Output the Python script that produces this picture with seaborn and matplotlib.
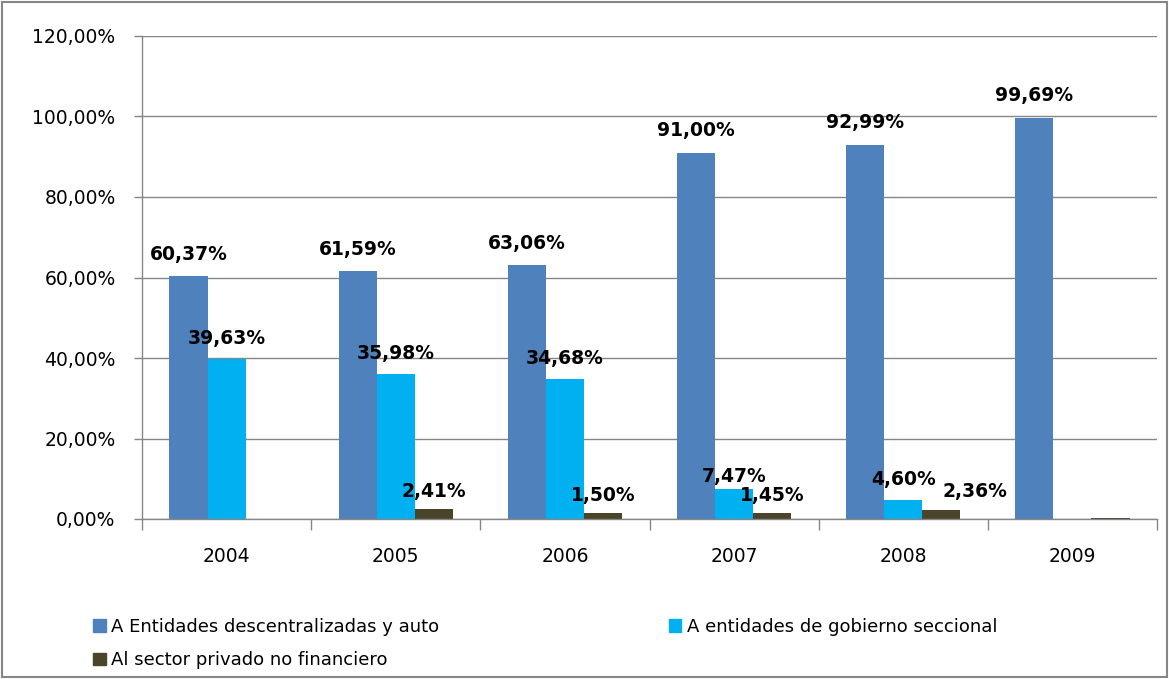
import pandas as pd
import matplotlib.pyplot as plt
import matplotlib.patches as mpatches
import seaborn as sns

years = ['2004', '2005', '2006', '2007', '2008', '2009']
series = ['A Entidades descentralizadas y auto',
          'A entidades de gobierno seccional',
          'Al sector privado no financiero']
descentralizadas = [60.37, 61.59, 63.06, 91.00, 92.99, 99.69]
seccional = [39.63, 35.98, 34.68, 7.47, 4.60, 0.0]
privado = [0.0, 2.41, 1.50, 1.45, 2.36, 0.31]
# which values carry a label in the original
shown = [[True] * 6,
         [True, True, True, True, True, False],
         [False, True, True, True, True, False]]
colors = ['#4F81BD', '#00B0F0', '#4A452A']

df = pd.DataFrame({
    'year': years * 3,
    'serie': [s for s in series for _ in years],
    'valor': descentralizadas + seccional + privado,
})

sns.set_theme(style='white')
plt.rcParams['font.family'] = ['DejaVu Sans']

fig = plt.figure(figsize=(11.69, 6.79), dpi=100)
ax = fig.add_axes([142 / 1169, 1 - 519 / 679, (1157 - 142) / 1169, (519 - 36) / 679])

sns.barplot(data=df, x='year', y='valor', hue='serie', order=years,
            hue_order=series, palette=colors, width=0.675, saturation=1,
            linewidth=0, ax=ax, legend=True)

ax.set_ylim(0, 120)
ax.set_xlim(-0.5, 5.5)
ax.set_yticks(range(0, 121, 20))
ax.set_yticklabels([f'{v},00%' for v in range(0, 121, 20)], fontsize=13.5, color='black')
ax.yaxis.grid(True, color='#868686', linewidth=1)
ax.set_axisbelow(True)
ax.set_xlabel('')
ax.set_ylabel('')

ax.tick_params(axis='y', which='major', length=6, width=1, color='#868686',
               pad=13, left=True)
ax.set_xticks(range(6))
ax.set_xticklabels(years, fontsize=13.5, color='black')
ax.set_xticks([i + 0.5 for i in range(-1, 6)], minor=True)
ax.tick_params(axis='x', which='major', length=0, pad=20)
ax.tick_params(axis='x', which='minor', length=8, width=1, color='#868686',
               bottom=True)

for side in ['top', 'right']:
    ax.spines[side].set_visible(False)
for side in ['left', 'bottom']:
    ax.spines[side].set_color('#868686')
    ax.spines[side].set_linewidth(1)

pads = [9, 8, 6]
for k, (cont, vals, flags) in enumerate(zip(ax.containers, [descentralizadas, seccional, privado], shown)):
    labels = [f'{v:.2f}%'.replace('.', ',') if f else '' for v, f in zip(vals, flags)]
    texts = ax.bar_label(cont, labels=labels, padding=pads[k], fontsize=13.5,
                         fontweight='bold', color='black')
    if k == 2:
        # 2008 label sits to the right of its bar so it does not hit 4,60%
        texts[4].xyann = (24, pads[k])
    if k == 1:
        texts[3].xyann = (0, 2)

handles = [mpatches.Patch(color=c, label=s) for c, s in zip(colors, series)]
# legend fills by column: put the third series under the first
handles = [handles[0], handles[2], handles[1]]
ax.get_legend().remove()
leg = fig.legend(handles=handles, loc='upper left', bbox_to_anchor=(84 / 1169, 1 - 609 / 679),
                 ncol=2, frameon=False, fontsize=13, handlelength=0.7, handleheight=0.7,
                 handletextpad=0.3, columnspacing=12.7, labelspacing=0.85, borderpad=0)
for t in leg.get_texts():
    t.set_color('black')

fig.patches.append(mpatches.Rectangle((0.002, 0.003), 0.996, 0.994,
                                      transform=fig.transFigure, fill=False,
                                      edgecolor='#868686', linewidth=1.5))

fig.savefig('out.png', dpi=100)
